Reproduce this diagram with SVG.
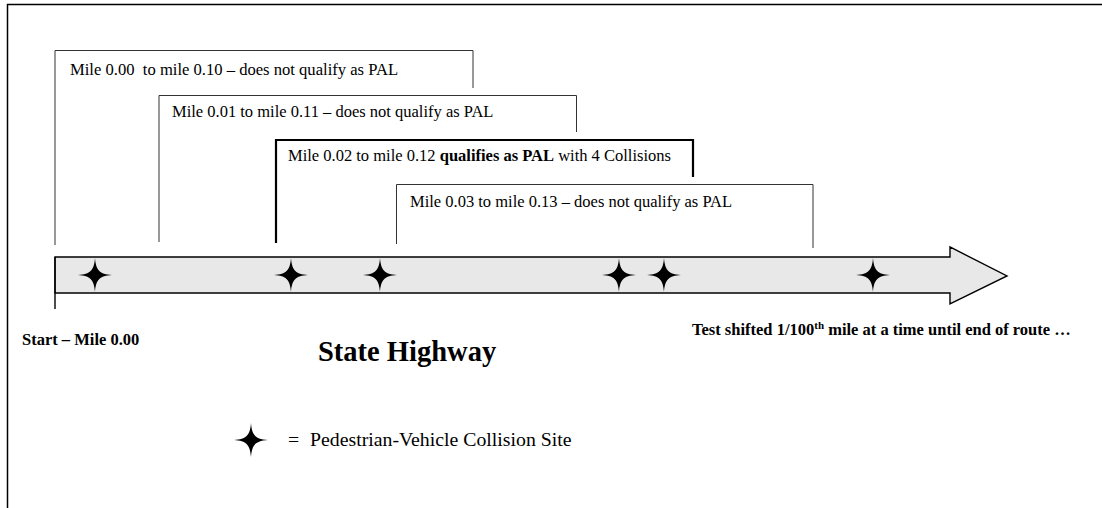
<svg xmlns="http://www.w3.org/2000/svg" width="1102" height="508" viewBox="0 0 1102 508">
<style>
.t{font-family:"Liberation Serif","Times New Roman",serif;font-size:16.5px;fill:#000}
.b{font-weight:bold}
.bx{fill:none;stroke:#333;stroke-width:1}
.bx3{fill:none;stroke:#000;stroke-width:2.2}
</style>
<defs>
<path id="star" d="M0,-17 C1,-4.5 4.5,-1 17,0 C4.5,1 1,4.5 0,17 C-1,4.5 -4.5,1 -17,0 C-4.5,-1 -1,-4.5 0,-17 Z" fill="#000"/>
</defs>
<rect width="1102" height="508" fill="#fff"/>
<g id="frame">
<path d="M7.5,508 V4.5 H1102" fill="none" stroke="#000" stroke-width="1.5"/>
</g>
<g id="box1">
<path class="bx" d="M55,245 V50.5 H473 V88"/>
<text class="t" x="70" y="75" xml:space="preserve" style="font-size:16.6px">Mile 0.00  to mile 0.10 – does not qualify as PAL</text>
</g>
<g id="box2">
<path class="bx" d="M159,242 V95.5 H576.5 V132"/>
<text class="t" x="172" y="117">Mile 0.01 to mile 0.11 – does not qualify as PAL</text>
</g>
<g id="box3">
<path class="bx3" d="M276,243 V140 H693 V177"/>
<text class="t" x="288" y="161">Mile 0.02 to mile 0.12 <tspan class="b">qualifies as PAL</tspan> with 4 Collisions</text>
</g>
<g id="box4">
<path class="bx" d="M396.5,244 V184.5 H813 V248"/>
<text class="t" x="410" y="207">Mile 0.03 to mile 0.13 – does not qualify as PAL</text>
</g>
<g id="highway">
<path d="M55,257 H950 V247 L1007,276 L950,304 V293 H55 Z" fill="#e8e8e8" stroke="#000" stroke-width="1.4" stroke-linejoin="miter"/>
<path d="M55,257 V309" stroke="#000" stroke-width="1.4"/>
<use href="#star" x="95" y="275"/>
<use href="#star" x="291" y="275"/>
<use href="#star" x="380" y="275"/>
<use href="#star" x="619" y="275"/>
<use href="#star" x="664" y="275"/>
<use href="#star" x="873" y="275"/>
</g>
<g id="connectors"></g>
<g id="labels">
<text class="t b" x="22" y="345">Start – Mile 0.00</text>
<text class="t b" x="318" y="361" style="font-size:28.5px">State Highway</text>
<text class="t b" x="692" y="335">Test shifted 1/100<tspan dy="-6" style="font-size:11px">th</tspan><tspan dy="6"> mile at a time until end of route …</tspan></text>
</g>
<g id="legend">
<use href="#star" x="251" y="440"/>
<text class="t" x="288" y="446" style="font-size:19.8px">=</text>
<text class="t" x="310" y="446" style="font-size:19.8px">Pedestrian-Vehicle Collision Site</text>
</g>
</svg>
